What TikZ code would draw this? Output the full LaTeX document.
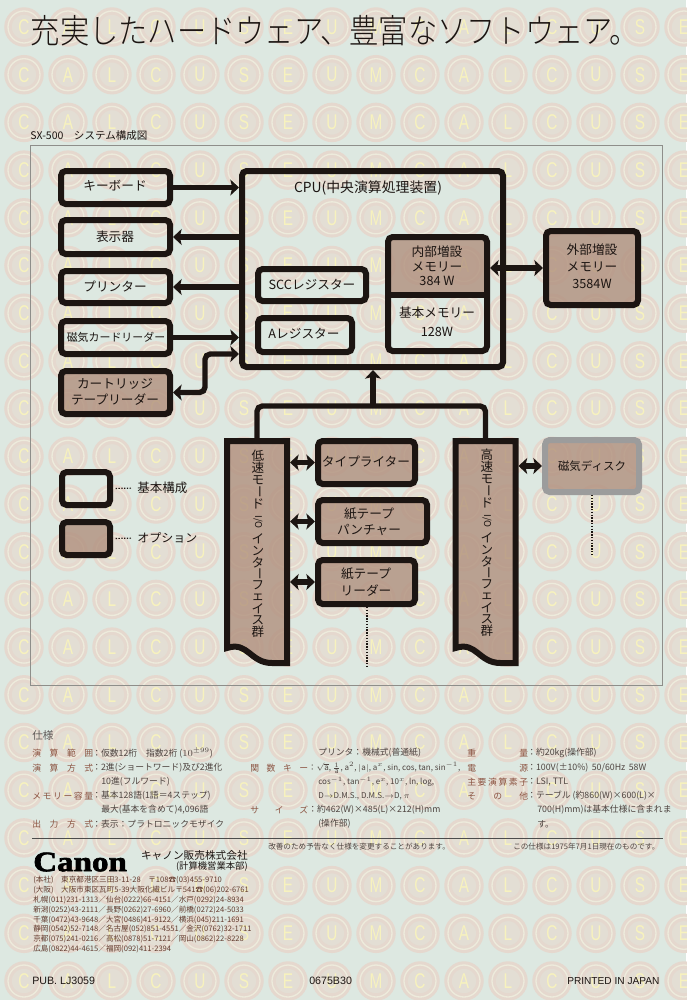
\documentclass[tikz,border=0pt]{standalone}
\usepackage{amsmath}
\usepackage{fontspec}
\setmainfont{Noto Sans CJK JP}
\newfontfamily\titlefont[FakeStretch=0.87]{Noto Sans CJK JP Light}
\newfontfamily\logofont[FakeStretch=1.18,FakeBold=2.5]{Liberation Serif Bold}
\newfontfamily\latinfont{Liberation Sans}
\newfontfamily\wmfont[FakeStretch=0.72]{Liberation Sans}
\usepackage{tikz}
\usetikzlibrary{arrows.meta}
\usetikzlibrary{calc}
\definecolor{paper}{HTML}{DDE8E1}
\definecolor{ink}{HTML}{1C1512}
\definecolor{taupe}{HTML}{B0907E}
\definecolor{diskgray}{HTML}{9C9C9C}
\definecolor{framegray}{HTML}{8E8E8A}
\definecolor{ringtan}{HTML}{E5D8CE}
\definecolor{ringcream}{HTML}{EDEBDC}
\definecolor{ringpink}{HTML}{E3DED4}
\definecolor{lettercream}{HTML}{F7F2BE}
\definecolor{speclabel}{HTML}{8C5442}
\definecolor{spectext}{HTML}{4E4440}
\newcommand{\vchar}[1]{\rotatebox[origin=c]{-90}{#1}}
\newcommand{\ifaceshape}[1]{
  \filldraw[ifaceline] ([shift={(3,3)}]#1.north west) -- ([shift={(-3,3)}]#1.north east)
    -- ([shift={(-3,-3)}]#1.south east) -- ([shift={(-18,-3)}]#1.south east)
    .. controls ([shift={(-40,-3)}]#1.south east) and ([shift={(-42,-25)}]#1.south east) .. ([shift={(3,-18)}]#1.south west) -- cycle;
}
% one column of stacked characters: name, x, y shift, first character
\newcommand{\ifacelabel}[4]{
  \foreach \ch [count=\i] in {#4,速,モ,\vchar{ー},ド}
    \node[vtext] (#1top\i) at (#2,{#3+456+12*(\i-1)}) {\ch};
  \node[vtext, font=\fontsize{7}{8}\selectfont] (#1io) at (#2,{#3+522}) {\vchar{I/O}};
  \foreach \ch [count=\i] in {イ,ン,タ,\vchar{ー},フ,ェ,イ,ス,群}
    \node[vtext] (#1tail\i) at (#2,{#3+539+11.6*(\i-1)}) {\ch};
}
\newcommand{\spread}[2]{\makebox[#1][s]{#2}}
\begin{document}
\begin{tikzpicture}[ x=0.75pt, y=-0.75pt,
      box/.style={draw=ink, line width=4.5pt, rounded corners=3.5pt, align=center, inner sep=0pt},
      optbox/.style={box, fill=taupe, fill opacity=0.8, text opacity=1},
      diskbox/.style={optbox, draw=diskgray},
      ifaceline/.style={draw=ink, line width=4.5pt, fill=taupe, fill opacity=0.8, miter limit=10},
      iface/.style={minimum width=49.5pt, minimum height=171pt, inner sep=0pt, outer sep=0pt},
      bus/.style={draw=ink, line width=4pt, rounded corners=4pt, -{Stealth[length=6.5pt,width=12pt,inset=1.5pt]}},
      twoway/.style={bus, {Stealth[length=6.5pt,width=12pt,inset=1.5pt]}-{Stealth[length=6.5pt,width=12pt,inset=1.5pt]}},
      plain/.style={bus, -},
      dotline/.style={draw=ink, line width=1pt, dash pattern=on 1pt off 1.1pt},
      boxtext/.style={font=\fontsize{9.5}{12.2}\selectfont, text=ink, align=center, inner sep=0pt},
      vtext/.style={font=\fontsize{9.4}{10}\selectfont, text=ink, inner sep=0pt},
      wmdisc/.style={circle, minimum size=24pt, inner sep=0pt, draw=ringtan, line width=2.3pt, double=ringcream, double distance=1pt, fill=ringpink, text=lettercream, font=\fontsize{16}{16}\selectfont\wmfont},
      speclab/.style={anchor=west, inner sep=0pt, text=speclabel, font=\fontsize{6.6}{8}\selectfont},
      specval/.style={anchor=west, inner sep=0pt, text=spectext, font=\fontsize{6.6}{8}\selectfont},
      addr/.style={anchor=west, inner sep=0pt, text=speclabel!70!black, font=\fontsize{5.7}{7}\selectfont},
      foot/.style={anchor=west, inner sep=0pt, text=ink, font=\fontsize{8}{9}\selectfont\latinfont}
      ]
      \useasboundingbox (0,0) rectangle (686,1000);
      \fill[paper] (0,0) rectangle (686,1000);

      % watermark
      \foreach \r in {0,...,20} {
        \foreach \ltr [count=\c] in {C,A,L,C,U,S,E,U,M,C,A,L,C,U,S,E} {
          \node[wmdisc] (wm\r-\c) at ({24+44*(\c-1)},{27+47.7*\r}) {\ltr};
        }
      }

      % title and frame
      \node[inner sep=0pt, text=ink] (title) at (335,31) {\fontsize{25.2}{27}\selectfont\titlefont 充実したハードウェア、豊富なソフトウェア。};
      \node[anchor=west, inner sep=0pt, text=ink, font=\fontsize{7.9}{9}\selectfont] (frametitle) at (30,136) {SX-500\quad システム構成図};
      \draw[framegray, line width=0.5pt] (30,145) rectangle (662,685);

      % left column
      \node[box, minimum width=81.75pt, minimum height=24.75pt] (keyboard) at (115.5,187.5) {};
      \node[box, minimum width=81.75pt, minimum height=25.5pt] (display) at (115.5,237) {};
      \node[box, minimum width=81.75pt, minimum height=24pt] (printer) at (115.5,287) {};
      \node[box, minimum width=81.75pt, minimum height=24.75pt] (cardreader) at (115.5,337.5) {};
      \node[optbox, minimum width=81.75pt, minimum height=32.25pt] (cartridge) at (115.5,392.5) {};
      \node[boxtext] (keyboardtext) at (115,186) {キーボード};
      \node[boxtext] (displaytext) at (115,237) {表示器};
      \node[boxtext] (printertext) at (115,287) {プリンター};
      \node[boxtext, font=\fontsize{8.2}{10}\selectfont] (cardtext) at (116,337) {磁気カードリーダー};
      \node[boxtext] (carttext) at (115,392) {カートリッジ\\テープリーダー};

      % cpu
      \node[box, minimum width=195.75pt, minimum height=147pt] (cpu) at (372.5,269) {};
      \node[boxtext, font=\fontsize{10.4}{12}\selectfont] (cputext) at (368,188) {CPU(中央演算処理装置)};
      \node[box, minimum width=81pt, minimum height=24pt] (scc) at (312,285) {};
      \node[boxtext] (scctext) at (312,285) {SCCレジスター};
      \node[box, minimum width=70.5pt, minimum height=25.5pt] (areg) at (305,335) {};
      \node[boxtext] (aregtext) at (304,334) {Aレジスター};

      % memory
      \node[fill=taupe, fill opacity=0.8, inner sep=0pt, minimum width=74.25pt, minimum height=43pt] (memopt) at (437.5,266) {};
      \node[box, minimum width=74.25pt, minimum height=85.5pt] (mem) at (437.5,294) {};
      \draw[ink, line width=4.5pt] (mem.west |- memopt.south) -- (mem.east |- memopt.south);
      \node[boxtext, font=\fontsize{9.5}{11}\selectfont] (memopttext) at (437,266) {内部増設\\メモリー\\384 W};
      \node[boxtext, font=\fontsize{9.5}{14}\selectfont] (membase) at (437,322) {基本メモリー\\128W};
      \node[optbox, minimum width=69pt, minimum height=55.5pt] (extmem) at (592,268) {};
      \node[boxtext, font=\fontsize{9.5}{12.8}\selectfont] (extmemtext) at (592,266) {外部増設\\メモリー\\3584W};

      % interfaces
      \node[iface] (low) at (257,552) {};
      \ifaceshape{low}
      \ifacelabel{low}{258}{0}{低}
      \node[iface] (high) at (485.5,552) {};
      \ifaceshape{high}
      \ifacelabel{high}{487}{-1}{高}

      % peripherals
      \node[optbox, minimum width=72.75pt, minimum height=32.25pt] (typewriter) at (366.5,462.5) {};
      \node[boxtext] (typewritertext) at (366,462) {タイプライター};
      \node[optbox, minimum width=81.75pt, minimum height=32.25pt] (punch) at (372.5,521.5) {};
      \node[boxtext] (punchtext) at (369,522) {紙テープ\\パンチャー};
      \node[optbox, minimum width=72.75pt, minimum height=33pt] (reader) at (366.5,582) {};
      \node[boxtext] (readertext) at (366,582) {紙テープ\\リーダー};
      \node[diskbox, minimum width=70.5pt, minimum height=39pt] (disk) at (592,466) {};
      \node[boxtext, font=\fontsize{8.6}{10}\selectfont] (disktext) at (592,466) {磁気ディスク};

      % dotted tails
      \coordinate (readertail) at (367,667);
      \draw[dotline] (reader.south -| readertail) -- (readertail);
      \coordinate (disktail) at (592,555);
      \draw[dotline] (disk.south) -- (disktail);

      % legend
      \node[box, minimum width=36pt, minimum height=24.75pt] (basekey) at (86,488.5) {};
      \node[optbox, minimum width=36pt, minimum height=24.75pt] (optkey) at (86,538.5) {};
      \node[boxtext, anchor=west, font=\fontsize{9.4}{10}\selectfont] (basetext) at (137,488) {基本構成};
      \node[boxtext, anchor=west, font=\fontsize{9}{10}\selectfont] (opttext) at (137,538) {オプション};
      \draw[dotline, line width=0.9pt, shorten <=2pt, shorten >=3.5pt] (basekey.east) -- (basetext.west);
      \draw[dotline, line width=0.9pt, shorten <=2pt, shorten >=3.5pt] (optkey.east) -- (opttext.west);

      % connectors
      \draw[bus] (keyboard.east) -- (cpu.west |- keyboard.east);
      \draw[bus] (cpu.west |- display.east) -- (display.east);
      \draw[bus] (cpu.west |- printer.east) -- (printer.east);
      \draw[bus] (cardreader.east) -- (cpu.west |- cardreader.east);
      \coordinate (cartbend) at (205,354);
      \draw[twoway] (cartridge.east) -| (cartbend) -- (cpu.west |- cartbend);
      \draw[twoway] (mem.east |- extmem.west) -- (extmem.west);
      \coordinate (busjoin) at (373,406);
      \draw[bus] (busjoin) -- (busjoin |- cpu.south);
      \draw[plain] (low.north) |- (busjoin) -| (high.north);
      \draw[twoway] (low.east |- typewriter.west) -- (typewriter.west);
      \draw[twoway] (low.east |- punch.west) -- (punch.west);
      \draw[twoway] (low.east |- reader.west) -- (reader.west);
      \draw[twoway] (high.east |- disk.west) -- (disk.west);

      % specifications
      \node[speclab, text=ink!70, font=\fontsize{8}{9}\selectfont] (spechead) at (32,735) {仕様};
      \node[speclab] (l1) at (32,753) {\spread{45.7pt}{演\hfill 算\hfill 範\hfill 囲}};
      \node[specval] (v1) at (92,753) {：仮数12桁\quad 指数2桁 ($10^{\pm 99}$)};
      \node[speclab] (l2) at (32,768) {\spread{45.7pt}{演\hfill 算\hfill 方\hfill 式}};
      \node[specval] (v2) at (92,768) {：2進(ショートワード)及び2進化};
      \node[specval] (v2b) at (101,782) {10進(フルワード)};
      \node[speclab] (l3) at (32,796) {\spread{45.7pt}{メ\hfill モ\hfill リ\hfill ー\hfill 容\hfill 量}};
      \node[specval] (v3) at (92,796) {：基本128語(1語＝4ステップ)};
      \node[specval] (v3b) at (101,810) {最大(基本を含めて)4,096語};
      \node[speclab] (l4) at (32,824) {\spread{45.7pt}{出\hfill 力\hfill 方\hfill 式}};
      \node[specval] (v4) at (92,824) {：表示：プラトロニックモザイク};

      \node[specval] (v5) at (318,753) {プリンタ：機械式(普通紙)};
      \node[speclab] (l6) at (250,768) {\spread{43.5pt}{関\hfill 数\hfill キ\hfill ー}};
      \node[specval, font=\fontsize{6}{8}\selectfont] (v6) at (308,768) {：$\sqrt{\mathrm{a}}$, $\frac{1}{\mathrm{a}}$, $\mathrm{a}^2$, $|\mathrm{a}|$, $\mathrm{a}^x$, sin, cos, tan, sin$^{-1}$,};
      \node[specval, font=\fontsize{6}{8}\selectfont] (v6b) at (318,782) {cos$^{-1}$, tan$^{-1}$, e$^x$, 10$^x$, ln, log,};
      \node[specval, font=\fontsize{6}{8}\selectfont] (v6c) at (318,796) {D$\rightarrow$D.M.S., D.M.S.$\rightarrow$D, $\pi$};
      \node[speclab] (l7) at (250,810) {\spread{43.5pt}{サ\hfill イ\hfill ズ}};
      \node[specval] (v7) at (308,810) {：約462(W)×485(L)×212(H)mm};
      \node[specval] (v7b) at (318,824) {(操作部)};

      \node[speclab] (l8) at (467,753) {\spread{45.7pt}{重\hfill 量}};
      \node[specval] (v8) at (527,753) {：約20kg(操作部)};
      \node[speclab] (l9) at (467,768) {\spread{45.7pt}{電\hfill 源}};
      \node[specval] (v9) at (527,768) {：100V(±10\%)\, 50/60Hz\, 58W};
      \node[speclab] (l10) at (467,782) {\spread{45.7pt}{主\hfill 要\hfill 演\hfill 算\hfill 素\hfill 子}};
      \node[specval] (v10) at (527,782) {：LSI, TTL};
      \node[speclab] (l11) at (467,796) {\spread{45.7pt}{そ\hfill の\hfill 他}};
      \node[specval] (v11) at (527,796) {：テーブル (約860(W)×600(L)×};
      \node[specval] (v11b) at (537,810) {700(H)mm)は基本仕様に含まれま};
      \node[specval] (v11c) at (537,824) {す。};

      \draw[gray!60!black, line width=0.5pt] (32,838) -- (663,838);
      \node[specval, font=\fontsize{5.7}{7}\selectfont] (note1) at (268,847) {改善のため予告なく仕様を変更することがあります。};
      \node[specval, font=\fontsize{5.7}{7}\selectfont] (note2) at (513,847) {この仕様は1975年7月1日現在のものです。};

      % maker
      \node[anchor=west, inner sep=0pt, text=black] (logo) at (33,862) {\fontsize{21}{22}\selectfont\logofont Canon};
      \node[anchor=east, inner sep=0pt, text=ink, font=\fontsize{8}{9}\selectfont] (maker) at (248,855) {キャノン販売株式会社};
      \node[anchor=east, inner sep=0pt, text=ink, font=\fontsize{7}{8}\selectfont] (makerdept) at (248,866) {(計算機営業本部)};
      \node[addr] (a1) at (33,880) {(本社)\quad 東京都港区三田3-11-28\quad 〒108☎(03)455-9710};
      \node[addr] (a2) at (33,890) {(大阪)\quad 大阪市東区瓦町5-39大阪化繊ビル〒541☎(06)202-6761};
      \node[addr] (a3) at (33,900) {札幌(011)231-1313／仙台(0222)66-4151／水戸(0292)24-8934};
      \node[addr] (a4) at (33,910) {新潟(0252)43-2111／長野(0262)27-6960／前橋(0272)24-5033};
      \node[addr] (a5) at (33,920) {千葉(0472)43-9648／大宮(0486)41-9122／横浜(045)211-1691};
      \node[addr] (a6) at (33,929) {静岡(0542)52-7148／名古屋(052)851-4551／金沢(0762)32-1711};
      \node[addr] (a7) at (33,939) {京都(075)241-0216／高松(0878)51-7121／岡山(0862)22-8228};
      \node[addr] (a8) at (33,949) {広島(0822)44-4615／福岡(092)411-2394};
      \node[foot] (pub) at (32,981) {PUB. LJ3059};
      \node[foot] (code) at (309,981) {0675B30};
      \node[foot, font=\fontsize{7.6}{8}\selectfont\latinfont] (printed) at (567,981) {PRINTED IN JAPAN};
    \end{tikzpicture}
\end{document}
